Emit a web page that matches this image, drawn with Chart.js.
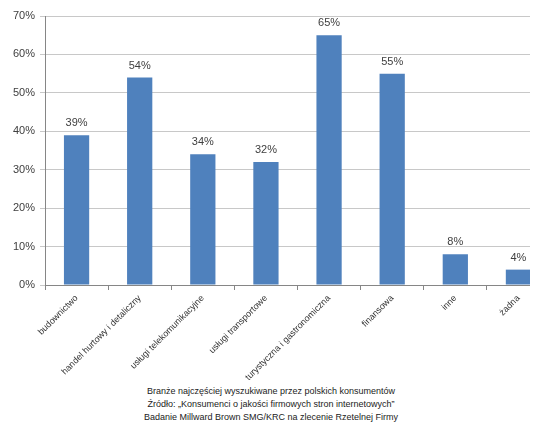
<!DOCTYPE html>
<html lang="pl">
<head>
<meta charset="UTF-8">
<title>Branże</title>
<script src="https://cdn.jsdelivr.net/npm/chart.js"></script>
<style>
  body { margin: 0; background: #fff; width: 537px; height: 430px; overflow: hidden; position: relative; }
  #wrap { position: absolute; left: 0; top: 0; width: 530px; height: 380px; overflow: hidden; }
  #box { width: 560px; height: 380px; }
  #caption { position: absolute; left: 0; width: 542px; top: 385px; text-align: center;
             font: 9px "Liberation Sans", sans-serif; color: #222; line-height: 13px; }
</style>
</head>
<body>
<div id="wrap"><div id="box"><canvas id="myChart"></canvas></div></div>
<div id="caption">
  Branże najczęściej wyszukiwane przez polskich konsumentów<br>
  Źródło: „Konsumenci o jakości firmowych stron internetowych”<br>
  Badanie Millward Brown SMG/KRC na zlecenie Rzetelnej Firmy
</div>

<script>
  // kategorie i wartości (%)
  const categories = ['budownictwo', 'handel hurtowy i detaliczny', 'usługi telekomunikacyjne',
    'usługi transportowe', 'turystyczna i gastronomiczna', 'finansowa', 'inne', 'żadna'];
  const values = [39, 54, 34, 32, 65, 55, 8, 4];
  const yTicks = [0, 10, 20, 30, 40, 50, 60, 70];

  // napisy nad słupkami
  const barLabels = {
    id: 'barLabels',
    afterDatasetsDraw(chart) {
      const ctx = chart.ctx;
      ctx.save();
      ctx.font = '11px "Liberation Sans", sans-serif';
      ctx.fillStyle = '#404040';
      ctx.textAlign = 'center';
      ctx.textBaseline = 'middle';
      chart.getDatasetMeta(0).data.forEach((bar, i) => {
        ctx.fillText(values[i] + '%', bar.x, bar.y - 12);
      });
      ctx.restore();
    }
  };

  new Chart(document.getElementById('myChart'), {
    type: 'bar',
    data: {
      labels: categories,
      datasets: [{
        data: values,
        backgroundColor: '#4f81bd',
        barPercentage: 0.4,
        categoryPercentage: 1
      }]
    },
    options: {
      responsive: true,
      maintainAspectRatio: false,
      animation: false,
      layout: { padding: { top: 16, right: 10, left: 0, bottom: 0 } },
      plugins: { legend: { display: false }, tooltip: { enabled: false } },
      scales: {
        x: {
          afterFit: (s) => { s.height = 95; },
          border: { color: '#868686' },
          grid: { drawOnChartArea: false, drawTicks: true, tickLength: 5, color: '#868686' },
          ticks: {
            minRotation: 45, maxRotation: 45, autoSkip: false,
            color: '#333', font: { family: '"Liberation Sans", sans-serif', size: 9 }
          }
        },
        y: {
          min: 0, max: 70,
          afterFit: (s) => { s.width = 45; },
          afterBuildTicks: (s) => { s.ticks = yTicks.map(v => ({ value: v })); },
          border: { color: '#868686' },
          grid: { color: '#c8c8c8', tickLength: 5 },
          ticks: {
            callback: (v) => v + '%',
            color: '#404040', padding: 5,
            font: { family: '"Liberation Sans", sans-serif', size: 11 }
          }
        }
      }
    },
    plugins: [barLabels]
  });
</script>
</body>
</html>
